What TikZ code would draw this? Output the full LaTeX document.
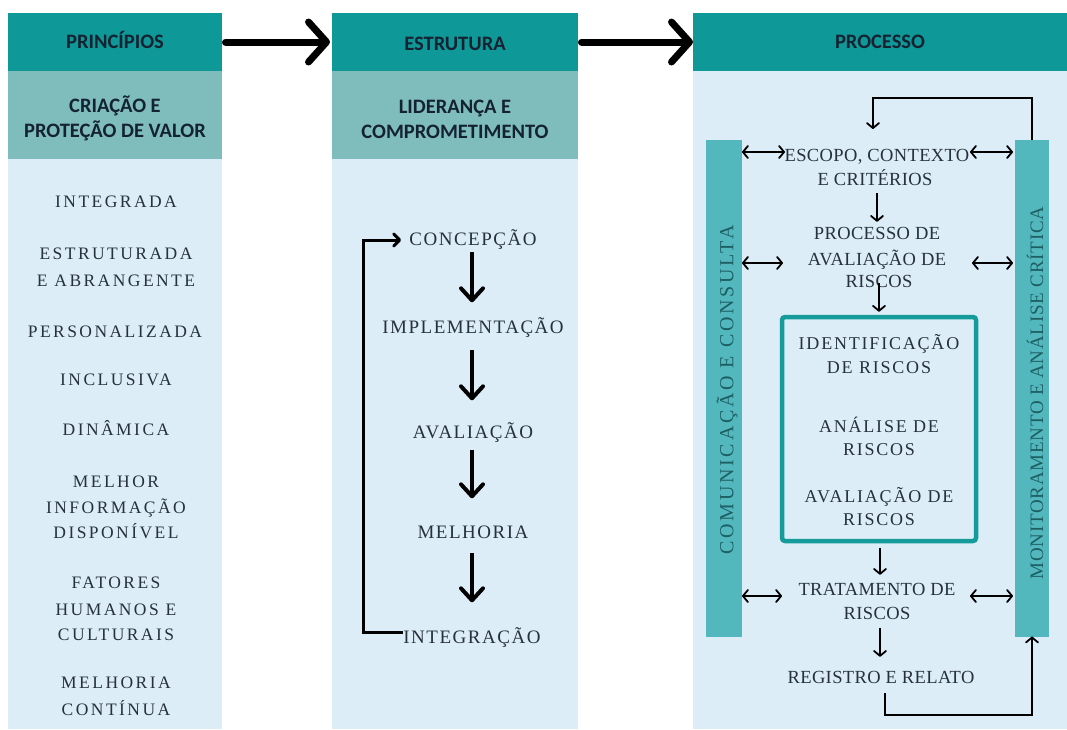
\documentclass[tikz,border=0pt]{standalone}
\usepackage{fontspec}
\setmainfont{Liberation Serif}
\newfontfamily\hdfont{Carlito}
\newfontfamily\lsA{Liberation Serif}[LetterSpace=14]
\newfontfamily\lsB{Liberation Serif}[LetterSpace=8]
\newfontfamily\lsC{Liberation Serif}[LetterSpace=10]
\newfontfamily\lsD{Liberation Serif}[LetterSpace=2]
\newfontfamily\lsE{Liberation Serif}[LetterSpace=14]
\newfontfamily\lsF{Liberation Serif}[LetterSpace=4]
\usetikzlibrary{arrows.meta}
\definecolor{hdteal}{HTML}{0E9898}
\definecolor{midteal}{HTML}{7FBDBD}
\definecolor{bodyblue}{HTML}{DDEDF8}
\definecolor{barteal}{HTML}{52B8BD}
\definecolor{boxteal}{HTML}{169B9B}
\definecolor{hdtext}{HTML}{142231}
\definecolor{bodytext}{HTML}{26313C}
\definecolor{bartext}{HTML}{1D5F63}
\begin{document}
\begin{tikzpicture}[x=1pt,y=-1pt,
  band/.style={rectangle, inner sep=0pt, outer sep=0pt, draw=none},
  hdtxt/.style={anchor=base, inner sep=0pt, text=hdtext, font=\hdfont\bfseries\fontsize{20.5}{22}\selectfont},
  lefttxt/.style={anchor=base, inner sep=0pt, text=bodytext, font=\lsA\fontsize{17.5}{20}\selectfont},
  midtxt/.style={anchor=base, inner sep=0pt, text height=12.5pt, text depth=0pt, text=bodytext, font=\lsB\fontsize{19}{20}\selectfont},
  boxtxt/.style={anchor=base, inner sep=0pt, text height=12pt, text depth=0pt, text=bodytext, font=\lsC\fontsize{18}{20}\selectfont},
  proctxt/.style={anchor=base, inner sep=0pt, text height=12pt, text depth=0pt, text=bodytext, font=\lsD\fontsize{18.5}{20}\selectfont},
  bartxtA/.style={inner sep=0pt, rotate=90, text=bartext, font=\lsE\fontsize{20}{20}\selectfont},
  bartxtB/.style={inner sep=0pt, rotate=90, text=bartext, font=\lsF\fontsize{19}{20}\selectfont},
  bigarr/.style={line width=7pt, line cap=round, -{Straight Barb[round, length=18pt, width=40pt]}},
  marr/.style={line width=4pt, -{Straight Barb[round, length=12pt, width=22pt]}},
  loopst/.style={line width=3pt, line join=miter, -{Straight Barb[round, length=6pt, width=12pt]}},
  tarr/.style={line width=1.8pt, -{Straight Barb[round, length=5pt, width=12pt]}},
  tarrb/.style={line width=1.8pt, {Straight Barb[round, length=5pt, width=12pt]}-{Straight Barb[round, length=5pt, width=12pt]}}
]
\useasboundingbox (0,0) rectangle (1067,729);

% ---------- column 1 ----------
\node[band, fill=hdteal, minimum width=214pt, minimum height=58pt] (h1) at (115,42) {};
\node[band, fill=midteal, minimum width=214pt, minimum height=88pt] (m1) at (115,115) {};
\node[band, fill=bodyblue, minimum width=214pt, minimum height=570pt] (b1) at (115,444) {};
\node[hdtxt] (t1) at (115,48) {PRINCÍPIOS};
\node[hdtxt] (s1a) at (115,112) {CRIAÇÃO E};
\node[hdtxt] (s1b) at (115,137) {PROTEÇÃO DE VALOR};

\node[lefttxt] (p1) at (116,207) {INTEGRADA};
\node[lefttxt] (p2a) at (116,259) {ESTRUTURADA};
\node[lefttxt] (p2b) at (116,286) {E ABRANGENTE};
\node[lefttxt] (p3) at (115,337) {PERSONALIZADA};
\node[lefttxt] (p4) at (116,385) {INCLUSIVA};
\node[lefttxt] (p5) at (116,435) {DINÂMICA};
\node[lefttxt] (p6a) at (116,487) {MELHOR};
\node[lefttxt] (p6b) at (116,513) {INFORMAÇÃO};
\node[lefttxt] (p6c) at (116,538) {DISPONÍVEL};
\node[lefttxt] (p7a) at (116,588) {FATORES};
\node[lefttxt] (p7b) at (116,615) {HUMANOS E};
\node[lefttxt] (p7c) at (116,640) {CULTURAIS};
\node[lefttxt] (p8a) at (116,688) {MELHORIA};
\node[lefttxt] (p8b) at (116,715) {CONTÍNUA};

% ---------- column 2 ----------
\node[band, fill=hdteal, minimum width=246pt, minimum height=58pt] (h2) at (455,42) {};
\node[band, fill=midteal, minimum width=246pt, minimum height=88pt] (m2) at (455,115) {};
\node[band, fill=bodyblue, minimum width=246pt, minimum height=570pt] (b2) at (455,444) {};
\node[hdtxt] (t2) at (455,50) {ESTRUTURA};
\node[hdtxt] (s2a) at (455,113) {LIDERANÇA E};
\node[hdtxt] (s2b) at (455,138) {COMPROMETIMENTO};

\node[midtxt] (con) at (473,245) {CONCEPÇÃO};
\node[midtxt] (imp) at (473,333) {IMPLEMENTAÇÃO};
\node[midtxt] (ava) at (473,438) {AVALIAÇÃO};
\node[midtxt] (mel) at (473,538) {MELHORIA};
\node[midtxt] (itg) at (472,643) {INTEGRAÇÃO};

\draw[marr, shorten <=7pt, shorten >=18pt] (con.south -| 472,0) -- (imp.north -| 472,0);
\draw[marr, shorten <=17pt, shorten >=25pt] (imp.south -| 472,0) -- (ava.north -| 472,0);
\draw[marr, shorten <=12pt, shorten >=27pt] (ava.south -| 472,0) -- (mel.north -| 472,0);
\draw[marr, shorten <=15pt, shorten >=28pt] (mel.south -| 472,0) -- (itg.north -| 472,0);
\draw[loopst, shorten >=8pt] ([yshift=4pt]itg.west) -| (363,240) -- (con.west |- 0,240);

% ---------- column 3 ----------
\node[band, fill=hdteal, minimum width=374pt, minimum height=58pt] (h3) at (880,42) {};
\node[band, fill=bodyblue, minimum width=374pt, minimum height=658pt] (b3) at (880,400) {};
\node[hdtxt] (t3) at (880,48) {PROCESSO};

\node[band, fill=barteal, minimum width=36pt, minimum height=497pt] (lbar) at (724,388) {};
\node[band, fill=barteal, minimum width=34pt, minimum height=497pt] (rbar) at (1032,388) {};
\node[bartxtA] (lbt) at (727,390) {COMUNICAÇÃO E CONSULTA};
\node[bartxtB] (rbt) at (1035,393) {MONITORAMENTO E ANÁLISE CRÍTICA};

\node[draw=boxteal, line width=4.5pt, rounded corners=3pt, minimum width=194pt, minimum height=224pt, inner sep=0pt] (ibox) at (879,429) {};

\node[proctxt] (esc1) at (877,161.5) {ESCOPO, CONTEXTO};
\node[proctxt] (esc2) at (875,185) {E CRITÉRIOS};
\node[proctxt] (pav1) at (877,239) {PROCESSO DE};
\node[proctxt] (pav2) at (877,265) {AVALIAÇÃO DE};
\node[proctxt] (pav3) at (879,287) {RISCOS};
\node[boxtxt] (id1) at (879,349) {IDENTIFICAÇÃO};
\node[boxtxt] (id2) at (879,373) {DE RISCOS};
\node[boxtxt] (an1) at (879,432) {ANÁLISE DE};
\node[boxtxt] (an2) at (879,455) {RISCOS};
\node[boxtxt] (av1) at (879,502) {AVALIAÇÃO DE};
\node[boxtxt] (av2) at (879,525) {RISCOS};
\node[proctxt] (tr1) at (877,595) {TRATAMENTO DE};
\node[proctxt] (tr2) at (877,619) {RISCOS};
\node[proctxt] (reg) at (881,683) {REGISTRO E RELATO};

% horizontal double arrows
\coordinate (l1) at (785,152);
\coordinate (r1) at (970,152);
\coordinate (l2) at (783,263);
\coordinate (r2) at (972,263);
\coordinate (l3) at (782,596);
\coordinate (r3) at (970,596);
\draw[tarrb] (lbar.east |- l1) -- (l1);
\draw[tarrb] (r1) -- ([xshift=-2pt]rbar.west |- r1);
\draw[tarrb] (lbar.east |- l2) -- (l2);
\draw[tarrb] (r2) -- ([xshift=-2pt]rbar.west |- r2);
\draw[tarrb] (lbar.east |- l3) -- (l3);
\draw[tarrb] (r3) -- ([xshift=-2pt]rbar.west |- r3);

% vertical flow
\draw[tarr, shorten <=8pt, shorten >=5pt] (esc2.south -| 877,0) -- (pav1.north -| 877,0);
\draw[tarr, shorten <=-4pt, shorten >=3pt] (pav3.south -| 879,0) -- (ibox.north -| 879,0);
\draw[tarr, shorten <=5pt, shorten >=8pt] (ibox.south -| 880,0) -- (tr1.north -| 880,0);
\draw[tarr, shorten <=9pt, shorten >=14pt] (tr2.south -| 880,0) -- (reg.north -| 880,0);

% loops
\coordinate (tlc) at (873,98);
\coordinate (tle) at (873,129);
\draw[tarr] (rbar.north) |- (tlc) -- (tle);
\coordinate (blc) at (1032,715);
\draw[tarr, shorten <=10pt] ([xshift=4pt]reg.south) |- (blc) -- (rbar.south);

% top arrows
\draw[bigarr, shorten <=3.5pt] (h1.east) -- ([xshift=-2pt]h2.west);
\draw[bigarr, shorten <=3.5pt] (h2.east) -- (h3.west);
\end{tikzpicture}
\end{document}
